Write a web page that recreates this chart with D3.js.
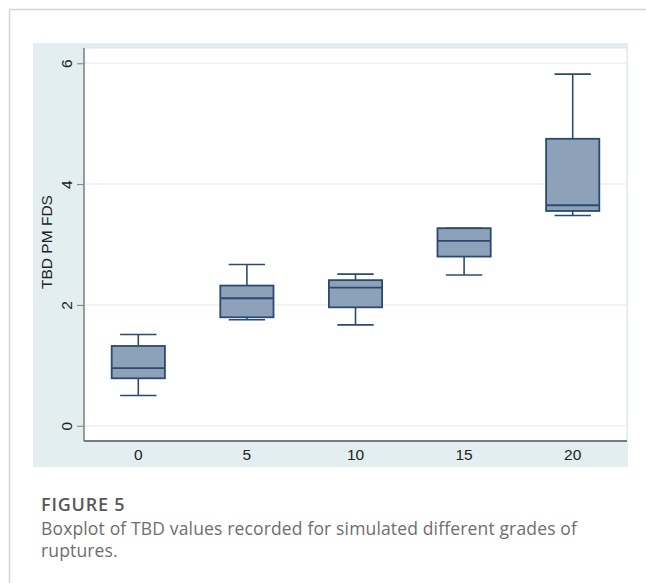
<!DOCTYPE html>
<html>
<head>
<meta charset="utf-8">
<script src="https://cdn.jsdelivr.net/npm/d3@7"></script>
<style>
  html, body { margin: 0; padding: 0; background: #fff; }
  svg { display: block; }
</style>
</head>
<body>
<svg id="chart" width="646" height="583"></svg>
<script>
const categories = ["0", "5", "10", "15", "20"];
const whiskerLow  = [0.50, 1.755, 1.67, 2.495, 3.48];
const q1          = [0.785, 1.795, 1.96, 2.80, 3.555];
const median      = [0.955, 2.11, 2.285, 3.06, 3.65];
const q3          = [1.32, 2.32, 2.41, 3.27, 4.75];
const whiskerHigh = [1.51, 2.67, 2.51, 3.27, 5.82];
const yTicks = [0, 2, 4, 6];
const yTitle = "TBD PM FDS";
const captionTitle = "FIGURE 5";
const captionLines = ["Boxplot of TBD values recorded for simulated different grades of", "ruptures."];

const svg = d3.select("#chart");

// page frame
svg.append("line").attr("x1", 9.5).attr("x2", 646).attr("y1", 9.5).attr("y2", 9.5)
  .attr("stroke", "#d4d4d4").attr("stroke-width", 1.5);
svg.append("line").attr("x1", 9.5).attr("x2", 9.5).attr("y1", 9.5).attr("y2", 583)
  .attr("stroke", "#d4d4d4").attr("stroke-width", 1.5);

// outer graph region
svg.append("rect").attr("x", 33).attr("y", 43).attr("width", 595).attr("height", 424)
  .attr("fill", "#e3eef0");

const plot = { left: 84, right: 627, top: 48, bottom: 441 };
svg.append("rect").attr("x", plot.left).attr("y", plot.top)
  .attr("width", plot.right - plot.left).attr("height", plot.bottom - plot.top)
  .attr("fill", "#ffffff").attr("stroke", "#dbe8ee").attr("stroke-width", 1);

const x = d3.scaleBand().domain(categories).range([plot.left, plot.right]).paddingInner(0).paddingOuter(0);
const y = d3.scaleLinear().domain([-0.253, 6.253]).range([plot.bottom, plot.top]);

const axisFont = "'Liberation Sans', Arial, sans-serif";
const axisSize = 15.5;

// gridlines
svg.append("g").selectAll("line").data(yTicks).join("line")
  .attr("x1", plot.left).attr("x2", plot.right)
  .attr("y1", d => y(d)).attr("y2", d => y(d))
  .attr("stroke", "#eaf2f5").attr("stroke-width", 1.5);

// y axis
const yAxis = svg.append("g").attr("transform", `translate(${plot.left},0)`)
  .call(d3.axisLeft(y).tickValues(yTicks).tickSize(7).tickPadding(4).tickFormat(d3.format("d")));
yAxis.select(".domain").attr("stroke", "#7f7f7f").attr("stroke-width", 1.5)
  .attr("d", `M0,${plot.top}V${plot.bottom}`);
yAxis.selectAll(".tick line").attr("stroke", "#7f7f7f").attr("stroke-width", 1);
yAxis.selectAll(".tick text")
  .attr("font-family", axisFont).attr("font-size", axisSize)
  .attr("fill", "#222")
  .attr("x", null).attr("dy", null)
  .attr("text-anchor", "middle")
  .attr("transform", "translate(-18,0) rotate(-90)")
  .attr("dominant-baseline", "central")
  .attr("y", 0);

// x axis
const xAxis = svg.append("g").attr("transform", `translate(0,${plot.bottom})`)
  .call(d3.axisBottom(x).tickSize(0).tickPadding(8));
xAxis.select(".domain").attr("stroke", "#555").attr("stroke-width", 1.5)
  .attr("d", `M${plot.left},0H${plot.right}`);
xAxis.selectAll(".tick text")
  .attr("font-family", axisFont).attr("font-size", axisSize)
  .attr("fill", "#222");

// y title
svg.append("text")
  .attr("transform", `translate(52,242) rotate(-90)`)
  .attr("text-anchor", "middle")
  .attr("font-family", axisFont).attr("font-size", axisSize)
  .attr("fill", "#222")
  .text(yTitle);

// boxes
const stroke = "#2b4a72";
const fill = "#8da2b8";
const boxW = x.bandwidth() * 0.49;
const capW = x.bandwidth() * 0.335;
const data = categories.map((c, i) => ({ c, lo: whiskerLow[i], q1: q1[i], med: median[i], q3: q3[i], hi: whiskerHigh[i] }));
const g = svg.append("g").selectAll("g").data(data).join("g")
  .attr("transform", d => `translate(${x(d.c) + x.bandwidth() / 2},0)`);

g.append("line").attr("x1", 0).attr("x2", 0).attr("y1", d => y(d.hi)).attr("y2", d => y(d.q3))
  .attr("stroke", stroke).attr("stroke-width", 1.6);
g.append("line").attr("x1", 0).attr("x2", 0).attr("y1", d => y(d.q1)).attr("y2", d => y(d.lo))
  .attr("stroke", stroke).attr("stroke-width", 1.6);
g.append("line").attr("x1", -capW / 2).attr("x2", capW / 2).attr("y1", d => y(d.hi)).attr("y2", d => y(d.hi))
  .attr("stroke", stroke).attr("stroke-width", 1.6);
g.append("line").attr("x1", -capW / 2).attr("x2", capW / 2).attr("y1", d => y(d.lo)).attr("y2", d => y(d.lo))
  .attr("stroke", stroke).attr("stroke-width", 1.6);
g.append("rect").attr("x", -boxW / 2).attr("width", boxW)
  .attr("y", d => y(d.q3)).attr("height", d => y(d.q1) - y(d.q3))
  .attr("fill", fill).attr("stroke", stroke).attr("stroke-width", 1.8);
g.append("line").attr("x1", -boxW / 2).attr("x2", boxW / 2).attr("y1", d => y(d.med)).attr("y2", d => y(d.med))
  .attr("stroke", stroke).attr("stroke-width", 1.8);

// caption
const capFont = "'Open Sans', Lato, sans-serif";
svg.append("text").attr("x", 41).attr("y", 511)
  .attr("font-family", capFont).attr("font-size", 18).attr("font-weight", 600)
  .attr("letter-spacing", 0.8)
  .attr("fill", "#585858").text(captionTitle);
captionLines.forEach((t, i) => {
  svg.append("text").attr("x", 41).attr("y", 534.5 + i * 22.5)
    .attr("font-family", capFont).attr("font-size", 17.5)
    .attr("letter-spacing", 0.15)
    .attr("fill", "#6e6e6e").text(t);
});
</script>
</body>
</html>
